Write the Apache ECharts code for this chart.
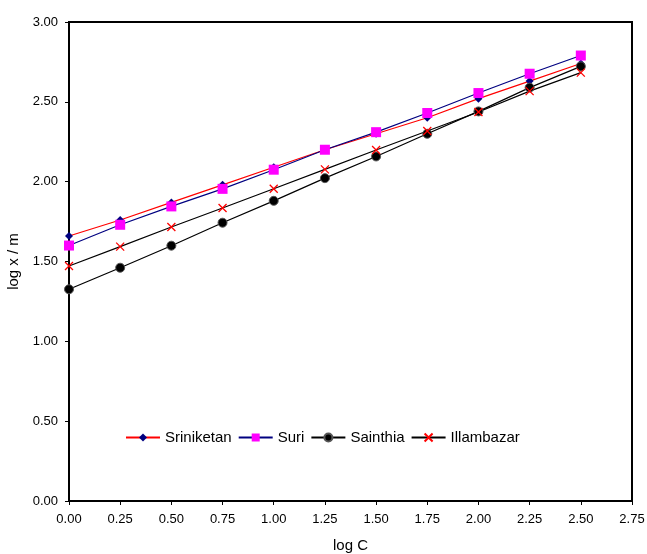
<!DOCTYPE html>
<html>
<head>
<meta charset="utf-8">
<script src="https://cdn.jsdelivr.net/npm/echarts@6/dist/echarts.min.js"></script>
<style>
  html, body { margin: 0; padding: 0; background: #fff; }
  #chart { width: 647px; height: 554px; }
</style>
</head>
<body>
<div id="chart"></div>
<script>
var logC = [0, 0.25, 0.5, 0.75, 1.0, 1.25, 1.5, 1.75, 2.0, 2.25, 2.5];
var sriniketan = [1.66, 1.76, 1.87, 1.98, 2.09, 2.20, 2.30, 2.40, 2.52, 2.63, 2.74];
var suri       = [1.60, 1.73, 1.845, 1.955, 2.075, 2.20, 2.31, 2.43, 2.555, 2.676, 2.79];
var sainthia   = [1.326, 1.461, 1.599, 1.743, 1.88, 2.022, 2.158, 2.30, 2.44, 2.589, 2.722];
var illambazar = [1.472, 1.593, 1.716, 1.835, 1.956, 2.077, 2.198, 2.317, 2.436, 2.567, 2.683];
var seriesNames = ['Sriniketan', 'Suri', 'Sainthia', 'Illambazar'];

function pairs(ys) { return logC.map(function (x, i) { return [x, ys[i]]; }); }

var font = 'Liberation Sans, Arial, sans-serif';
var chart = echarts.init(document.getElementById('chart'), null, { renderer: 'canvas' });

var crossPath = 'path://M0,0L10,10M10,0L0,10';

chart.setOption({
  animation: false,
  backgroundColor: '#fff',
  grid: {
    left: 69, right: 15, top: 22, bottom: 53,
    outerBoundsMode: 'none', containLabel: false,
    show: true, borderColor: '#000', borderWidth: 2, backgroundColor: 'transparent'
  },
  legend: {
    left: 120, top: 425,
    itemWidth: 34, itemHeight: 10, itemGap: 6,
    textStyle: { fontFamily: font, fontSize: 15, color: '#000' },
    data: seriesNames
  },
  xAxis: {
    type: 'value', min: 0, max: 2.75, interval: 0.25,
    name: 'log C', nameLocation: 'middle', nameGap: 37,
    nameTextStyle: { fontFamily: font, fontSize: 15, color: '#000' },
    axisLine: { show: true, lineStyle: { color: '#000', width: 2 } },
    axisTick: { show: true, inside: false, length: 4, lineStyle: { color: '#000', width: 1 } },
    axisLabel: { fontFamily: font, fontSize: 13, color: '#000', margin: 12,
      formatter: function (v) { return v.toFixed(2); } },
    splitLine: { show: false }
  },
  yAxis: {
    type: 'value', min: 0, max: 3, interval: 0.5,
    name: 'log x / m', nameLocation: 'middle', nameGap: 42, nameRotate: 90,
    nameTextStyle: { fontFamily: font, fontSize: 15, color: '#000' },
    axisLine: { show: true, lineStyle: { color: '#000', width: 2 } },
    axisTick: { show: true, inside: false, length: 4, lineStyle: { color: '#000', width: 1 } },
    axisLabel: { fontFamily: font, fontSize: 13, color: '#000', margin: 11,
      formatter: function (v) { return v.toFixed(2); } },
    splitLine: { show: false }
  },
  series: [
    {
      name: seriesNames[0], type: 'line', data: pairs(sriniketan),
      symbol: 'diamond', symbolSize: 8,
      lineStyle: { color: '#ff0000', width: 1.2 },
      itemStyle: { color: '#000080' }
    },
    {
      name: seriesNames[1], type: 'line', data: pairs(suri),
      symbol: 'rect', symbolSize: 10,
      lineStyle: { color: '#000080', width: 1.2 },
      itemStyle: { color: '#ff00ff' }
    },
    {
      name: seriesNames[2], type: 'line', data: pairs(sainthia),
      symbol: 'circle', symbolSize: 9,
      lineStyle: { color: '#000', width: 1.2 },
      itemStyle: { color: '#000', borderColor: '#555', borderWidth: 1 }
    },
    {
      name: seriesNames[3], type: 'line', data: pairs(illambazar),
      symbol: crossPath, symbolSize: 8,
      lineStyle: { color: '#000', width: 1.2 },
      itemStyle: { color: '#ff0000', borderColor: '#ff0000', borderWidth: 1.3 }
    }
  ]
});
</script>
</body>
</html>
